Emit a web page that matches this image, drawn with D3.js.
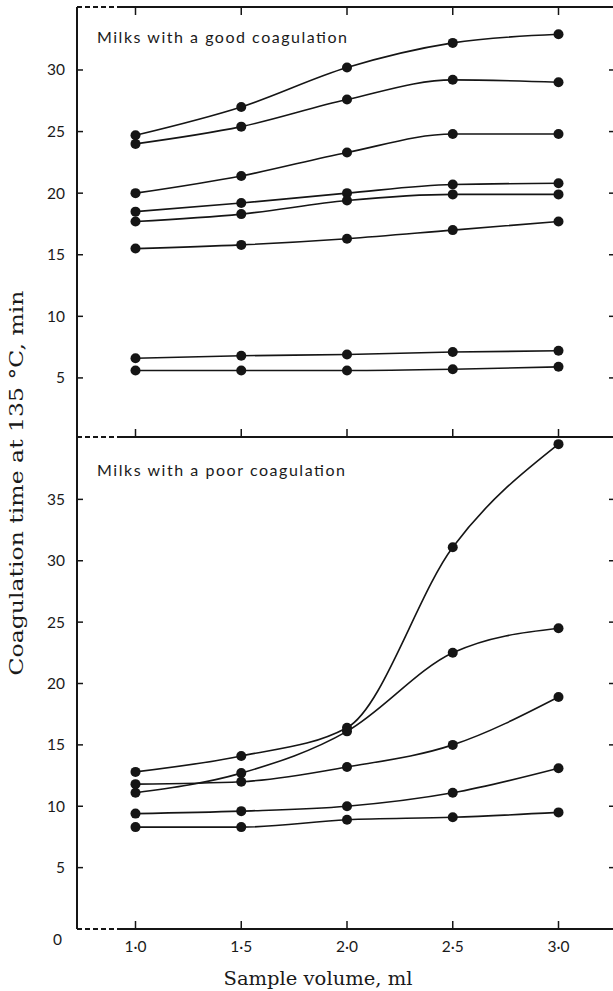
<!DOCTYPE html>
<html>
<head>
<meta charset="utf-8">
<script src="https://cdn.jsdelivr.net/npm/d3@7"></script>
<style>
  html, body { margin: 0; padding: 0; background: #fff; }
  svg { display: block; }
  .tick-label { font-family: Lato, "Open Sans", sans-serif; font-size: 15.5px; fill: #1a1a1a; }
  .panel-title { font-family: Lato, "Open Sans", sans-serif; font-size: 16px; fill: #1a1a1a; }
  .axis-title { font-family: "DejaVu Serif", "Liberation Serif", serif; font-size: 19px; fill: #1a1a1a; }
</style>
</head>
<body>
<div id="chart"></div>
<script>
// Sample volumes (ml) on the x axis
const volumes = [1.0, 1.5, 2.0, 2.5, 3.0];
const volumeLabels = ["1·0", "1·5", "2·0", "2·5", "3·0"];

// Milks with a good coagulation: coagulation time (min) per sample volume
const good1 = [24.7, 27.0, 30.2, 32.2, 32.9];
const good2 = [24.0, 25.4, 27.6, 29.2, 29.0];
const good3 = [20.0, 21.4, 23.3, 24.8, 24.8];
const good4 = [18.5, 19.2, 20.0, 20.7, 20.8];
const good5 = [17.7, 18.3, 19.4, 19.9, 19.9];
const good6 = [15.5, 15.8, 16.3, 17.0, 17.7];
const good7 = [6.6, 6.8, 6.9, 7.1, 7.2];
const good8 = [5.6, 5.6, 5.6, 5.7, 5.9];

// Milks with a poor coagulation
const poor1 = [12.8, 14.1, 16.4, 31.1, 39.5];
const poor2 = [11.1, 12.7, 16.1, 22.5, 24.5];
const poor3 = [11.8, 12.0, 13.2, 15.0, 18.9];
const poor4 = [9.4, 9.6, 10.0, 11.1, 13.1];
const poor5 = [8.3, 8.3, 8.9, 9.1, 9.5];

// Tick values for the two vertical axes
const goodTicks = [5, 10, 15, 20, 25, 30];
const poorTicks = [5, 10, 15, 20, 25, 30, 35];

const goodSeries = [good1, good2, good3, good4, good5, good6, good7, good8];
const poorSeries = [poor1, poor2, poor3, poor4, poor5];

const W = 613, H = 991;
const left = 77, frameRight = 620;
const topY = 7, midY = 437, bottomY = 929;
const ink = "#151515";

const svg = d3.select("#chart").append("svg")
  .attr("width", W).attr("height", H)
  .attr("viewBox", `0 0 ${W} ${H}`);

const x = d3.scaleLinear().domain([1.0, 3.0]).range([135.5, 558.5]);
const yGood = d3.scaleLinear().domain([0, 35]).range([439.5, 8.4]);
const yPoor = d3.scaleLinear().domain([0, 40]).range([bottomY, 438]);

// Frame: left axis plus the three horizontal rules, each with a dashed stub at the left
svg.append("line")
  .attr("x1", left).attr("x2", left).attr("y1", topY).attr("y2", bottomY)
  .attr("stroke", ink).attr("stroke-width", 2);

[topY, midY, bottomY].forEach(yy => {
  svg.append("line")
    .attr("x1", left).attr("x2", 121).attr("y1", yy).attr("y2", yy)
    .attr("stroke", ink).attr("stroke-width", 2)
    .attr("stroke-dasharray", "5,3");
  svg.append("line")
    .attr("x1", 121).attr("x2", frameRight).attr("y1", yy).attr("y2", yy)
    .attr("stroke", ink).attr("stroke-width", 2);
});

// X ticks: down from the top rule, up from the middle and bottom rules
volumes.forEach(v => {
  const xx = x(v);
  svg.append("line").attr("x1", xx).attr("x2", xx).attr("y1", topY).attr("y2", topY + 8)
    .attr("stroke", ink).attr("stroke-width", 1.5);
  svg.append("line").attr("x1", xx).attr("x2", xx).attr("y1", midY).attr("y2", midY - 8)
    .attr("stroke", ink).attr("stroke-width", 1.5);
  svg.append("line").attr("x1", xx).attr("x2", xx).attr("y1", bottomY).attr("y2", bottomY - 8)
    .attr("stroke", ink).attr("stroke-width", 1.5);
});

svg.selectAll(".xlab").data(volumes).join("text")
  .attr("class", "tick-label")
  .attr("x", d => x(d)).attr("y", 952)
  .attr("text-anchor", "middle")
  .text((d, i) => volumeLabels[i]);

// Y ticks on the left (inward) and short marks at the right edge
function yTicks(scale, ticks) {
  ticks.forEach(t => {
    const yy = scale(t);
    svg.append("line").attr("x1", left).attr("x2", left + 6).attr("y1", yy).attr("y2", yy)
      .attr("stroke", ink).attr("stroke-width", 1.5);
    svg.append("line").attr("x1", 609).attr("x2", 613).attr("y1", yy).attr("y2", yy)
      .attr("stroke", ink).attr("stroke-width", 1.5);
    svg.append("text").attr("class", "tick-label")
      .attr("x", 65).attr("y", yy + 5.5)
      .attr("text-anchor", "end")
      .text(t);
  });
}
yTicks(yGood, goodTicks);
yTicks(yPoor, poorTicks);

svg.append("text").attr("class", "tick-label")
  .attr("x", 62).attr("y", 945).attr("text-anchor", "end").text("0");

// Panel titles
svg.append("text").attr("class", "panel-title")
  .attr("x", 97).attr("y", 43)
  .attr("textLength", 250).attr("lengthAdjust", "spacing")
  .text("Milks with a good coagulation");
svg.append("text").attr("class", "panel-title")
  .attr("x", 97).attr("y", 476)
  .attr("textLength", 248).attr("lengthAdjust", "spacing")
  .text("Milks with a poor coagulation");

// Axis titles
svg.append("text").attr("class", "axis-title")
  .attr("x", 318).attr("y", 985)
  .attr("text-anchor", "middle")
  .attr("textLength", 189).attr("lengthAdjust", "spacingAndGlyphs")
  .text("Sample volume, ml");

svg.append("text").attr("class", "axis-title")
  .attr("transform", "translate(23,483) rotate(-90)")
  .attr("text-anchor", "middle")
  .attr("textLength", 385).attr("lengthAdjust", "spacingAndGlyphs")
  .text("Coagulation time at 135 °C, min");

// Smooth curves and dots for each milk
function drawSeries(seriesList, yScale) {
  const line = d3.line()
    .x((d, i) => x(volumes[i]))
    .y(d => yScale(d))
    .curve(d3.curveMonotoneX);
  const g = svg.append("g");
  g.selectAll("path").data(seriesList).join("path")
    .attr("d", line)
    .attr("fill", "none")
    .attr("stroke", ink)
    .attr("stroke-width", 1.6);
  seriesList.forEach(s => {
    g.selectAll(null).data(s).join("circle")
      .attr("cx", (d, i) => x(volumes[i]))
      .attr("cy", d => yScale(d))
      .attr("r", 5)
      .attr("fill", ink);
  });
}
drawSeries(goodSeries, yGood);
drawSeries(poorSeries, yPoor);
</script>
</body>
</html>
